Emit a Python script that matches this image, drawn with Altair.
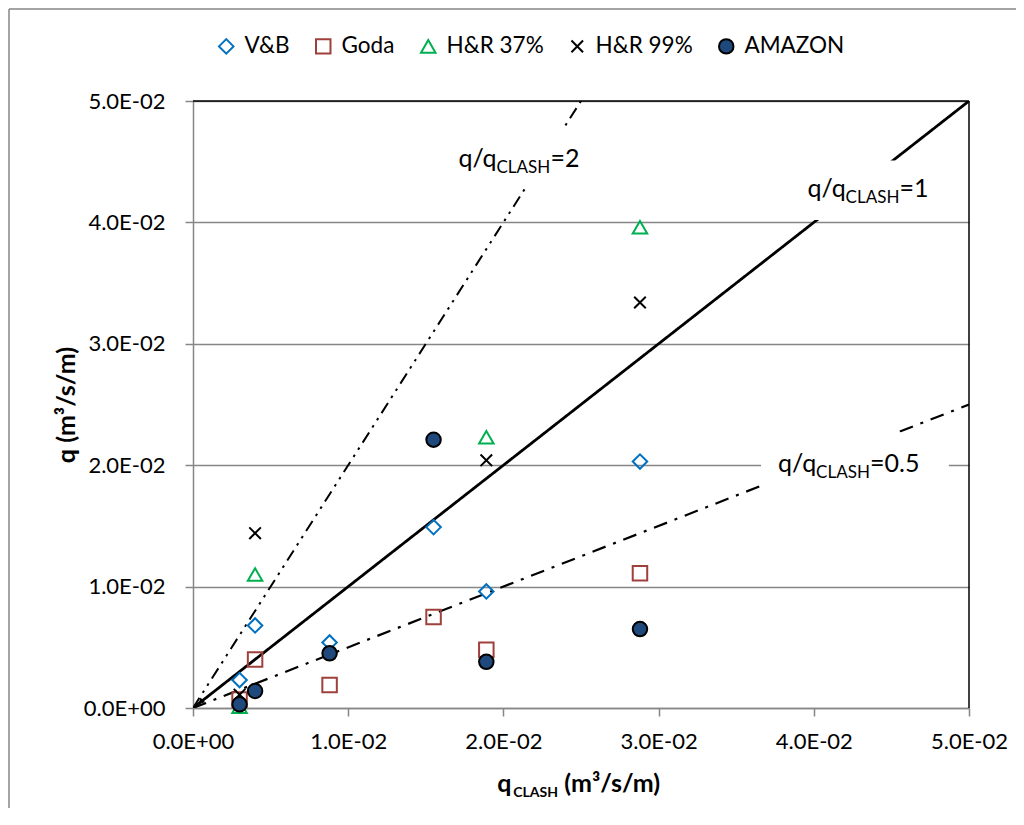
import altair as alt
import pandas as pd

# ---------------- data ----------------
x_clash = [0.0030, 0.0040, 0.0088, 0.0155, 0.0189, 0.0288]
vb      = [0.0023, 0.0068, 0.0054, 0.0149, 0.0096, 0.0203]
goda    = [0.0007, 0.0040, 0.0019, 0.0075, 0.0048, 0.0111]
hr37    = [0.0001, 0.0110, None,   None,   0.0223, 0.0396]
hr99    = [0.0011, 0.0144, None,   None,   0.0204, 0.0334]
amazon  = [0.0003, 0.0014, 0.0045, 0.0221, 0.0038, 0.0065]

series_names = ["V&B", "Goda", "H&R 37%", "H&R 99%", "AMAZON"]
series_values = [vb, goda, hr37, hr99, amazon]

ratios = [2, 1, 0.5]
ratio_texts = ["=2", "=1", "=0.5"]
axis_ticks = [0.0, 0.01, 0.02, 0.03, 0.04, 0.05]

rows = []
for name, vals in zip(series_names, series_values):
    for xv, yv in zip(x_clash, vals):
        if yv is not None:
            rows.append({"series": name, "q_clash": xv, "q": yv})
df = pd.DataFrame(rows)

line_rows = []
for r in ratios:
    for xv in (0.0, 0.05):
        line_rows.append({"ratio": r, "x": xv, "y": r * xv})
lines_df = pd.DataFrame(line_rows)

# label anchors (left edge / baseline) and white label boxes, in data units
label_df = pd.DataFrame({
    "ratio": ratios,
    "suffix": ratio_texts,
    "lx": [0.0171, 0.0396, 0.0377],
    "ly": [0.0446, 0.0421, 0.0194],
    "bx": [0.0153, 0.0385, 0.0366],
    "bx2": [0.0266, 0.0488, 0.0487],
    "by": [0.0428, 0.0402, 0.0171],
    "by2": [0.0479, 0.0451, 0.0227],
})

FONT = "Lato"
W, H = 776, 607
DOM = [0, 0.05]

xs = alt.Scale(domain=DOM, nice=False)
ys = alt.Scale(domain=DOM, nice=False)

sci = ("datum.value == 0 ? '0.0E+00' : "
       "format(datum.value / pow(10, floor(log(datum.value)/LN10 + 1e-9)), '.1f') + 'E-' + "
       "format(-floor(log(datum.value)/LN10 + 1e-9), '02d')")

x_axis = alt.Axis(values=axis_ticks, grid=False, labelExpr=sci, title=None,
                  domainColor="#868686", domainWidth=1.5, tickColor="#868686",
                  tickWidth=1.5, tickSize=8, labelFont=FONT, labelFontSize=22,
                  labelColor="black", labelPadding=15, labelFlush=False)
y_axis = alt.Axis(values=axis_ticks, grid=True, gridColor="#868686", gridWidth=1.5,
                  labelExpr=sci, title="q (m³/s/m)", titleFont=FONT, titleFontSize=25,
                  titleFontWeight="bold", titleColor="black", titleX=-127, titleY=H / 2,
                  titleAngle=270, titleBaseline="middle", titleAlign="center",
                  domainColor="#868686", domainWidth=1.5, tickColor="#868686",
                  tickWidth=1.5, tickSize=8, labelFont=FONT, labelFontSize=22,
                  labelColor="black", labelPadding=20, labelFlush=False)

base_lines = alt.Chart(lines_df)

def ratio_line(r, dash, width):
    return base_lines.transform_filter(alt.datum.ratio == r).mark_line(
        color="black", strokeWidth=width, strokeDash=dash, clip=True
    ).encode(x=alt.X("x:Q", scale=xs, axis=x_axis), y=alt.Y("y:Q", scale=ys, axis=y_axis))

l2 = ratio_line(2, [12, 6, 2.5, 6, 2.5, 6], 2)
l1 = ratio_line(1, [1, 0], 2.8)
l05 = ratio_line(0.5, [14, 8, 3, 8], 2.2)

arrow = alt.Chart(pd.DataFrame({"x": [0.0005], "y": [0.0005]})).mark_point(
    shape="triangle-up", angle=225, size=45, filled=True, color="black", opacity=1
).encode(x=alt.X("x:Q", scale=xs), y=alt.Y("y:Q", scale=ys))

boxes = alt.Chart(label_df).mark_rect(color="white").encode(
    x=alt.X("bx:Q", scale=xs), x2="bx2:Q", y=alt.Y("by:Q", scale=ys), y2="by2:Q")

lab_base = alt.Chart(label_df).encode(x=alt.X("lx:Q", scale=xs), y=alt.Y("ly:Q", scale=ys))
lab_q = lab_base.mark_text(text="q/q", font=FONT, fontSize=25, align="left",
                           baseline="alphabetic", color="black")
lab_sub = lab_base.mark_text(text="CLASH", font=FONT, fontSize=17, align="left",
                             baseline="alphabetic", color="black", dx=38, dy=6)
lab_suf = lab_base.mark_text(font=FONT, fontSize=25, align="left",
                             baseline="alphabetic", color="black", dx=92).encode(text="suffix:N")

# frame of plot area (top / right in black)
frame_top = alt.Chart(pd.DataFrame({"x": [0.0], "x2": [0.05], "y": [0.05]})).mark_rule(
    color="black", strokeWidth=1.5).encode(x=alt.X("x:Q", scale=xs), x2="x2:Q", y=alt.Y("y:Q", scale=ys))
frame_right = alt.Chart(pd.DataFrame({"x": [0.05], "y": [0.0], "y2": [0.05]})).mark_rule(
    color="black", strokeWidth=1.5).encode(x=alt.X("x:Q", scale=xs), y=alt.Y("y:Q", scale=ys), y2="y2:Q")

# outer chart-area border (grey)
outer_left = alt.Chart(pd.DataFrame({"a": [0]})).mark_rule(color="#868686", strokeWidth=1.5).encode(
    x=alt.value(-184), y=alt.value(-92), y2=alt.value(H + 110))
outer_top = alt.Chart(pd.DataFrame({"a": [0]})).mark_rule(color="#868686", strokeWidth=1.5).encode(
    x=alt.value(-184), x2=alt.value(W + 60), y=alt.value(-92))

# x-axis title with subscript
xt = alt.Chart(pd.DataFrame({"x": [0.0196], "y": [-0.0069]})).encode(
    x=alt.X("x:Q", scale=xs), y=alt.Y("y:Q", scale=ys))
xt_q = xt.mark_text(text="q", font=FONT, fontSize=25, fontWeight="bold", align="left",
                    baseline="alphabetic", color="black")
xt_sub = xt.mark_text(text="CLASH", font=FONT, fontSize=14, fontWeight="bold", align="left",
                      baseline="alphabetic", color="black", dx=16, dy=5)
xt_rest = xt.mark_text(text="(m³/s/m)", font=FONT, fontSize=25, fontWeight="bold", align="left",
                       baseline="alphabetic", color="black", dx=67)

cross_path = "M-0.8,-0.8L0.8,0.8M-0.8,0.8L0.8,-0.8"
shape_scale = alt.Scale(domain=series_names,
                        range=["diamond", "square", "triangle-up", cross_path, "circle"])
fill_scale = alt.Scale(domain=series_names,
                       range=["transparent", "transparent", "transparent", "transparent", "#1f497d"])
stroke_scale = alt.Scale(domain=series_names,
                         range=["#0070c0", "#a0403c", "#00b050", "black", "black"])

points = alt.Chart(df).mark_point(filled=True, size=210, strokeWidth=2, opacity=1).encode(
    x=alt.X("q_clash:Q", scale=xs),
    y=alt.Y("q:Q", scale=ys),
    shape=alt.Shape("series:N", scale=shape_scale, title=None),
    fill=alt.Fill("series:N", scale=fill_scale, title=None),
    stroke=alt.Stroke("series:N", scale=stroke_scale, title=None),
)

chart = alt.layer(
    outer_left, outer_top,
    l2, l1, l05, arrow, boxes, lab_q, lab_sub, lab_suf,
    frame_top, frame_right, points, xt_q, xt_sub, xt_rest,
).properties(
    width=W, height=H,
    autosize=alt.AutoSizeParams(type="none"),
    padding={"left": 185, "top": 93, "right": 47, "bottom": 100},
).configure(font=FONT).configure_view(stroke=None).configure_legend(
    orient="none", legendX=22, legendY=-66, direction="horizontal",
    labelFont=FONT, labelFontSize=22.5, labelColor="black", symbolSize=210,
    symbolStrokeWidth=2, columnPadding=22, labelOffset=7, titlePadding=0,
)

chart.save("out.html", embed_options={"renderer": "svg", "actions": False})
